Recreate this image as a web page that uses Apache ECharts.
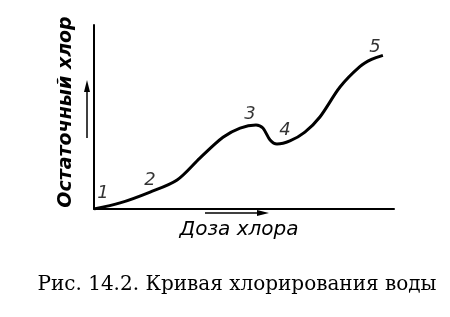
<!DOCTYPE html>
<html><head><meta charset="utf-8">
<script src="https://cdn.jsdelivr.net/npm/echarts@6/dist/echarts.min.js"></script>
<style>html,body{margin:0;padding:0;background:#fff}#c{width:450px;height:317px}</style>
</head><body><div id="c"></div>
<script>
// Curve: chlorine dose (x) vs residual chlorine (y), arbitrary units 0..100
const doseValues = [0, 8.7, 18.7, 27.7, 35.3, 43, 48.7, 54, 56.3, 58.7, 61, 65.3, 70.3, 75.3, 82, 88.7, 92.5, 96.3];
const residualValues = [0, 3.3, 9.2, 15.8, 27.7, 39, 44, 45.7, 44, 37.5, 35.3, 37, 41.8, 50, 66.3, 77.5, 81.3, 83.5];
// Point labels on the curve
const pointNames = ['1', '2', '3', '4', '5'];
const pointX = [3, 18.7, 52, 63.7, 93.7];
const pointY = [8.7, 15.8, 51.6, 42.9, 88];
const xAxisTitle = 'Доза хлора';
const yAxisTitle = 'Остаточный хлор';
const caption = 'Рис. 14.2. Кривая хлорирования воды';

const chart = echarts.init(document.getElementById('c'), null, {renderer: 'canvas'});
const curve = doseValues.map((x, i) => [x, residualValues[i]]);
const pts = pointNames.map((n, i) => ({name: n, value: [pointX[i], pointY[i]]}));
chart.setOption({
  animation: false,
  backgroundColor: '#fff',
  grid: {left: 94, top: 25, right: 56, bottom: 108},
  xAxis: {type: 'value', min: 0, max: 100, axisLine: {show: true, lineStyle: {color: '#000', width: 2}},
    axisTick: {show: false}, axisLabel: {show: false}, splitLine: {show: false}},
  yAxis: {type: 'value', min: 0, max: 100, axisLine: {show: true, lineStyle: {color: '#000', width: 2}},
    axisTick: {show: false}, axisLabel: {show: false}, splitLine: {show: false}},
  series: [
    {type: 'line', data: curve, smooth: 0.3, showSymbol: false, lineStyle: {color: '#000', width: 3}},
    {type: 'scatter', data: pts, symbolSize: 0, itemStyle: {color: '#000'},
      label: {show: true, position: 'inside', formatter: p => p.name, color: '#000', textBorderWidth: 0,
        fontFamily: 'DejaVu Sans', fontStyle: 'italic', fontSize: 18}}
  ],
  graphic: [
    // y arrow
    {type: 'line', shape: {x1: 87, y1: 138, x2: 87, y2: 88}, style: {stroke: '#000', lineWidth: 1.5}},
    {type: 'polygon', shape: {points: [[87, 80], [84, 92], [90, 92]]}, style: {fill: '#000'}},
    // x arrow
    {type: 'line', shape: {x1: 205, y1: 213, x2: 260, y2: 213}, style: {stroke: '#000', lineWidth: 1.5}},
    {type: 'polygon', shape: {points: [[269, 213], [257, 210], [257, 216]]}, style: {fill: '#000'}},
    {type: 'text', x: 239, y: 230, style: {text: xAxisTitle, fontFamily: 'DejaVu Sans', fontStyle: 'italic',
      fontSize: 20, fill: '#000', align: 'center', verticalAlign: 'middle'}},
    {type: 'text', x: 66, y: 112, rotation: Math.PI / 2, style: {text: yAxisTitle, fontFamily: 'DejaVu Sans',
      fontStyle: 'italic', fontWeight: 'bold', fontSize: 19, fill: '#000', align: 'center', verticalAlign: 'middle'}},
    {type: 'text', x: 237, y: 285, style: {text: caption, fontFamily: 'DejaVu Serif', fontSize: 20,
      fill: '#000', align: 'center', verticalAlign: 'middle'}}
  ]
});
</script></body></html>
